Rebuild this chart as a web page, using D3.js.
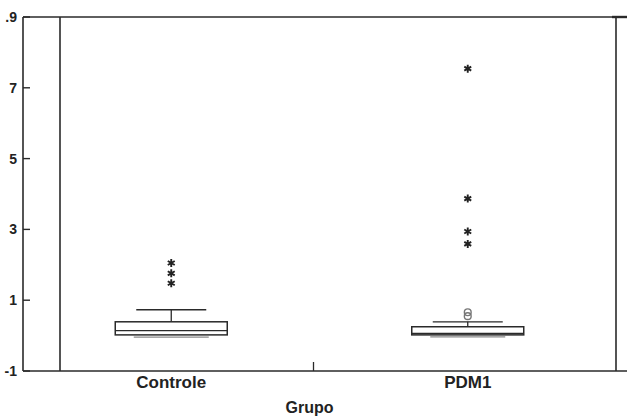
<!DOCTYPE html>
<html>
<head>
<meta charset="utf-8">
<script src="https://cdn.jsdelivr.net/npm/d3@7"></script>
<style>
  html, body { margin: 0; padding: 0; background: #fff; }
  text { font-family: "Liberation Sans", Arial, sans-serif; font-weight: bold; fill: #222; }
</style>
</head>
<body>
<svg id="chart" width="627" height="417"></svg>
<script>
// data
var groups = ["Controle", "PDM1"];
var whiskerLow = [-0.03, -0.02];
var q1 = [0.02, 0.02];
var median = [0.14, 0.06];
var q3 = [0.39, 0.25];
var whiskerHigh = [0.73, 0.39];
var outliersCircle = [[], [0.66, 0.55]];
var outliersStar = [[2.05, 1.76, 1.48], [7.54, 3.87, 2.94, 2.59]];
var yTicks = [-1, 1, 3, 5, 7, 9];
var yTickLabels = ["-1", "1", "3", "5", "7", ".9"];
var xTitle = "Grupo";

var svg = d3.select("#chart");
var margin = {top: 17, right: 11, bottom: 46, left: 23};
var W = 627, H = 417;
var x0 = margin.left, x1 = W - margin.right, y0 = margin.top, y1 = H - margin.bottom;

var y = d3.scaleLinear().domain([-1, 9]).range([y1, y0]);
var x = d3.scaleBand().domain(groups).range([x0, x1]).paddingInner(0).paddingOuter(0);
var cx = function (i) { return x(groups[i]) + x.bandwidth() / 2; };

var ink = "#2a2a2a";

// frame
var frame = svg.append("g").attr("stroke", ink).attr("stroke-width", 1.6).attr("fill", "none");
frame.append("line").attr("x1", x0).attr("x2", W).attr("y1", y0).attr("y2", y0);
frame.append("line").attr("x1", x0).attr("x2", W).attr("y1", y1).attr("y2", y1);
frame.append("line").attr("x1", x0).attr("x2", x0).attr("y1", y0).attr("y2", y1);
frame.append("line").attr("x1", x1).attr("x2", x1).attr("y1", y0).attr("y2", y1);
frame.append("line").attr("x1", x0 + 37).attr("x2", x0 + 37).attr("y1", y0).attr("y2", y1);
frame.append("line").attr("x1", x1 - 4).attr("x2", W).attr("y1", y0).attr("y2", y0).attr("stroke-width", 2.4);

// y axis ticks
var ya = svg.append("g");
ya.selectAll("line.tick").data(yTicks).enter().append("line")
  .attr("x1", x0).attr("x2", x0 + 7)
  .attr("y1", function (d) { return y(d); }).attr("y2", function (d) { return y(d); })
  .attr("stroke", ink).attr("stroke-width", 1.4);
ya.selectAll("text").data(yTicks).enter().append("text")
  .attr("x", x0 - 6).attr("y", function (d) { return y(d); })
  .attr("dy", "0.36em").attr("text-anchor", "end").attr("font-size", 14)
  .text(function (d, i) { return yTickLabels[i]; });

// x axis: divider tick and labels
svg.append("line")
  .attr("x1", x(groups[1]) - 6).attr("x2", x(groups[1]) - 6)
  .attr("y1", y1).attr("y2", y1 - 9)
  .attr("stroke", ink).attr("stroke-width", 1.3);
svg.selectAll("text.cat").data(groups).enter().append("text")
  .attr("class", "cat")
  .attr("x", function (d, i) { return cx(i); }).attr("y", y1 + 17)
  .attr("text-anchor", "middle").attr("font-size", 17)
  .text(function (d) { return d; });
svg.append("text")
  .attr("x", (x0 + x1) / 2 - 10).attr("y", H - 4)
  .attr("text-anchor", "middle").attr("font-size", 16)
  .text(xTitle);

// boxes
var boxW = 112, capW = 70, lowCapW = 75;
var boxes = svg.selectAll("g.box").data(groups).enter().append("g").attr("class", "box");
boxes.each(function (d, i) {
  var g = d3.select(this), c = cx(i);
  g.append("line").attr("x1", c).attr("x2", c)
    .attr("y1", y(whiskerHigh[i])).attr("y2", y(q3[i]))
    .attr("stroke", ink).attr("stroke-width", 1.3);
  g.append("line").attr("x1", c - capW / 2).attr("x2", c + capW / 2)
    .attr("y1", y(whiskerHigh[i])).attr("y2", y(whiskerHigh[i]))
    .attr("stroke", ink).attr("stroke-width", 1.3);
  g.append("line").attr("x1", c - lowCapW / 2).attr("x2", c + lowCapW / 2)
    .attr("y1", y(whiskerLow[i]) + 0.5).attr("y2", y(whiskerLow[i]) + 0.5)
    .attr("stroke", "#888").attr("stroke-width", 1.3);
  g.append("rect").attr("x", c - boxW / 2).attr("width", boxW)
    .attr("y", y(q3[i])).attr("height", y(q1[i]) - y(q3[i]))
    .attr("fill", "#fff").attr("stroke", ink).attr("stroke-width", 1.5);
  g.append("line").attr("x1", c - boxW / 2).attr("x2", c + boxW / 2)
    .attr("y1", y(median[i])).attr("y2", y(median[i]))
    .attr("stroke", ink).attr("stroke-width", 1.4);

  g.selectAll("circle").data(outliersCircle[i]).enter().append("circle")
    .attr("cx", c).attr("cy", function (v) { return y(v); }).attr("r", 3.4)
    .attr("fill", "none").attr("stroke", "#777").attr("stroke-width", 1.4);

  g.selectAll("path.star").data(outliersStar[i]).enter().append("path")
    .attr("class", "star")
    .attr("transform", function (v) { return "translate(" + c + "," + y(v) + ")"; })
    .attr("d", d3.symbol().type(d3.symbolAsterisk).size(45))
    .attr("fill", "none").attr("stroke", "#222").attr("stroke-width", 1.9);
});
</script>
</body>
</html>
